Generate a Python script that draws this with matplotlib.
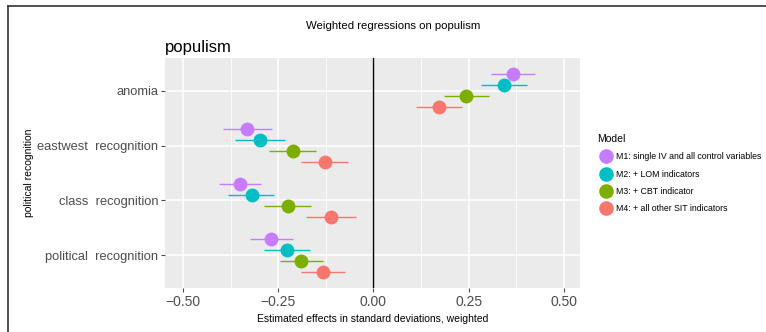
import matplotlib
matplotlib.use("Agg")
import matplotlib.pyplot as plt
from matplotlib.lines import Line2D
import numpy as np

plt.rcParams['font.family'] = ['Liberation Sans', 'DejaVu Sans']

# Predictors, listed bottom to top
categories = ["political  recognition", "class  recognition",
              "eastwest  recognition", "anomia"]
models = ["M1: single IV and all control variables",
          "M2: + LOM indicators",
          "M3: + CBT indicator",
          "M4: + all other SIT indicators"]
colors = ["#C77CFF", "#00BFC4", "#7CAE00", "#F8766D"]

# Estimates (rows: models, cols: categories bottom to top)
est = np.array([
    [-0.268, -0.351, -0.331, 0.365],
    [-0.227, -0.320, -0.298, 0.343],
    [-0.190, -0.225, -0.212, 0.242],
    [-0.132, -0.112, -0.128, 0.172],
])
ci_low = np.array([
    [-0.324, -0.405, -0.395, 0.308],
    [-0.287, -0.382, -0.364, 0.283],
    [-0.245, -0.287, -0.273, 0.184],
    [-0.189, -0.176, -0.190, 0.111],
])
ci_high = np.array([
    [-0.212, -0.295, -0.265, 0.424],
    [-0.167, -0.261, -0.232, 0.403],
    [-0.133, -0.165, -0.151, 0.303],
    [-0.074, -0.047, -0.066, 0.233],
])
xticks = [-0.50, -0.25, 0.00, 0.25, 0.50]

W, H = 766, 332
fig = plt.figure(figsize=(W / 100, H / 100), dpi=100)
ax = fig.add_axes([165 / W, 1 - 288 / H, 415 / W, 230 / H])
ax.set_facecolor("#EBEBEB")
for s in ax.spines.values():
    s.set_visible(False)

ax.set_xlim(-0.547, 0.542)
ax.set_ylim(0.4, 4.6)
ax.set_xticks(xticks)
ax.set_xticklabels([f"{t:.2f}".replace("-", "\u2212") for t in xticks])
ax.set_xticks([-0.375, -0.125, 0.125, 0.375], minor=True)
ypos = np.arange(1, len(categories) + 1)
ax.set_yticks(ypos)
ax.set_yticklabels(categories)
ax.grid(which="major", color="white", lw=1.1)
ax.grid(which="minor", axis="x", color="white", lw=0.55)
ax.set_axisbelow(True)
ax.tick_params(axis="both", which="major", colors="#4D4D4D", length=3,
               width=0.8, pad=2)
ax.tick_params(axis="x", which="major", labelsize=10)
ax.tick_params(axis="y", which="major", labelsize=9.3)
ax.tick_params(axis="x", which="minor", length=0)
for lab in ax.get_xticklabels() + ax.get_yticklabels():
    lab.set_color("#4D4D4D")

ax.axvline(0, color="black", lw=1.0, zorder=2)

offsets = [0.3, 0.1, -0.1, -0.3]
for i in range(len(models)):
    y = ypos + offsets[i]
    ax.hlines(y, ci_low[i], ci_high[i], color=colors[i], lw=1.0, zorder=3)
    ax.plot(est[i], y, "o", color=colors[i], ms=10, mec="none", zorder=4)

ax.set_xlabel("Estimated effects in standard deviations, weighted",
              fontsize=7.5, labelpad=4)
ax.set_ylabel("political recognition", fontsize=7.5)
ax.yaxis.set_label_coords((29 - 165) / 415, 0.5)
ax.yaxis.label.set_va("center")
ax.set_title("populism", loc="left", fontsize=12, pad=4)

fig.text(393 / W, 1 - 26 / H, "Weighted regressions on populism",
         ha="center", va="center", fontsize=8.2)

handles = [Line2D([], [], marker="o", ls="none", color=c, ms=10.5, mec="none")
           for c in colors]
leg = fig.legend(handles, models, loc="upper left",
                 bbox_to_anchor=(597 / W, 1 - 134 / H), frameon=False,
                 title="Model", fontsize=6.3, title_fontsize=7.5,
                 handletextpad=0.15, labelspacing=0.95, handlelength=2.0,
                 borderaxespad=0, borderpad=0)
leg._legend_box.align = "left"

# Frame lines along top and left of the image
fig.add_artist(Line2D([8 / W, 1], [1 - 6 / H, 1 - 6 / H], color="#333333",
                      lw=1.2, transform=fig.transFigure))
fig.add_artist(Line2D([8 / W, 8 / W], [0, 1 - 6 / H], color="#333333",
                      lw=1.2, transform=fig.transFigure))

fig.savefig("out.png", dpi=100)
